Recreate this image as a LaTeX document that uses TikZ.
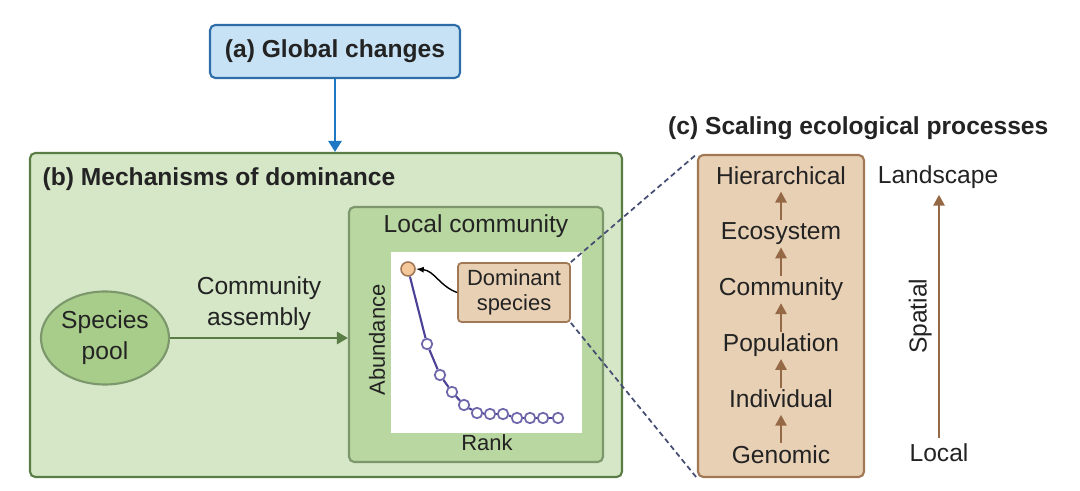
\documentclass[tikz,border=0pt]{standalone}
\usepackage{fontspec}
\setmainfont{Liberation Sans}
\usetikzlibrary{positioning, arrows.meta, calc, shapes.geometric}
\definecolor{skyfill}{RGB}{200,226,245}
\definecolor{skyline}{RGB}{45,110,170}
\definecolor{skyarrow}{RGB}{30,120,195}
\definecolor{leafpale}{RGB}{214,231,200}
\definecolor{leafmid}{RGB}{185,215,160}
\definecolor{leafpool}{RGB}{168,205,138}
\definecolor{leafdark}{RGB}{90,125,70}
\definecolor{tanfill}{RGB}{232,208,180}
\definecolor{tanline}{RGB}{160,120,85}
\definecolor{barkarrow}{RGB}{150,105,70}
\definecolor{rankline}{RGB}{75,65,150}
\definecolor{zoomline}{RGB}{70,78,115}
\definecolor{domdot}{RGB}{245,200,155}
\definecolor{inkgrey}{RGB}{35,35,35}

\begin{document}
\begin{tikzpicture}[font=\fontsize{14}{17.5}\selectfont, text=inkgrey,
      box/.style={draw, line width=1.2pt, rounded corners=3pt},
      ttl/.style={font=\fontsize{14}{17.5}\selectfont\bfseries},
      lvltxt/.style={inner sep=1pt, text height=10pt, text depth=3pt},
      uparr/.style={-{Triangle[length=2.2mm, width=2.2mm]}, line width=1.6pt, barkarrow},
      zoomln/.style={densely dashed, line width=1pt, zoomline},
      rankpt/.style={circle, draw=rankline!80, fill=white, line width=1pt, inner sep=0pt, minimum size=2.1mm},
      plotlbl/.style={font=\fontsize{12.5}{14}\selectfont}]
    \useasboundingbox (0,0) rectangle (21.6,9.82);
    % (a) global changes
    \node[box, draw=skyline, fill=skyfill, minimum width=5cm, minimum height=1.06cm, ttl] (glob) at (6.70,8.79) {(a) Global changes};
    % (b) mechanisms of dominance
    \node[box, draw=leafdark, fill=leafpale, minimum width=11.84cm, minimum height=6.48cm] (mech) at (6.52,3.52) {};
    \node[anchor=north west, ttl] (mechttl) at ([shift={(0.15,-0.2)}]mech.north west) {(b) Mechanisms of dominance};
    \draw[-{Triangle[length=2.2mm, width=2.6mm]}, line width=1.6pt, skyarrow] (glob.south) -- (glob.south |- mech.north);
    \node[box, draw=leafdark!80, fill=leafmid, minimum width=5.08cm, minimum height=5.10cm] (loc) at (9.52,3.13) {};
    \node[below=0.06cm of loc.north] (locttl) {Local community};
    \node[ellipse, draw=leafdark!80, fill=leafpool, line width=1.2pt, minimum width=2.56cm, minimum height=1.86cm, inner sep=0pt, align=center] (pool) at (2.10,3.06) {Species\\pool};
    \draw[-{Triangle[length=2.2mm, width=2.4mm]}, line width=1.6pt, leafdark] (pool) -- (pool -| loc.west)
      node[midway, above, align=center, text=inkgrey] {Community\\assembly};
    % rank-abundance plot
    \node[fill=white, minimum width=3.82cm, minimum height=3.62cm, inner sep=0pt] (plot) at (9.73,2.97) {};
    \node[plotlbl, rotate=90] (abund) at (7.54,3.02) {Abundance};
    \node[plotlbl] (rank) at (9.74,0.96) {Rank};
    \node[circle, draw=tanline, fill=domdot, line width=0.9pt, inner sep=0pt, minimum size=2.8mm] (rk1) at (8.16,4.44) {};
    \foreach \px/\py [count=\k from 2] in {8.54/2.94, 8.80/2.32, 9.04/1.98, 9.28/1.72, 9.54/1.56, 9.80/1.54,
        10.06/1.54, 10.34/1.46, 10.60/1.46, 10.86/1.46, 11.16/1.46}
      \node[rankpt] (rk\k) at (\px,\py) {};
    \foreach \k [remember=\k as \j (initially 1)] in {2,...,12}
      \draw[rankline, line width=1.2pt] (rk\j) -- (rk\k);
    \node[box, draw=tanline, fill=tanfill, line width=1pt, rounded corners=2pt, minimum width=2.24cm, minimum height=1.18cm,
      align=center, font=\fontsize{12.5}{14}\selectfont] (dom) at (10.28,3.97) {Dominant\\species};
    \draw[-{Latex[length=1.6mm]}, line width=0.8pt] (dom.west) to[out=160, in=-5] (rk1.east);
    % (c) scaling ecological processes
    \node[box, draw=tanline, fill=tanfill, minimum width=3.32cm, minimum height=6.44cm] (scal) at (15.62,3.50) {};
    \node[anchor=west, ttl] (scalttl) at (13.24,7.26) {(c) Scaling ecological processes};
    \foreach \lv/\nm [count=\i] in {Genomic/gen, Individual/ind, Population/pop, Community/com, Ecosystem/eco, Hierarchical/hie}
      \node[lvltxt] (\nm) at (15.62,{0.68+(\i-1)*1.116}) {\lv};
    \foreach \a/\b in {gen/ind, ind/pop, pop/com, com/eco, eco/hie}
      \draw[uparr] (\a) -- (\b);
    \node (lscape) at (18.76,6.28) {Landscape};
    \node (lcl) at (18.78,0.76) {Local};
    \draw[uparr] (lcl.north) -- (lcl.north |- lscape.south) node[midway, above, sloped, text=inkgrey] {Spatial};
    % zoom lines
    \draw[zoomln] (dom.north east) -- (scal.north west);
    \draw[zoomln] (dom.south east) -- (scal.south west);
  \end{tikzpicture}
\end{document}
